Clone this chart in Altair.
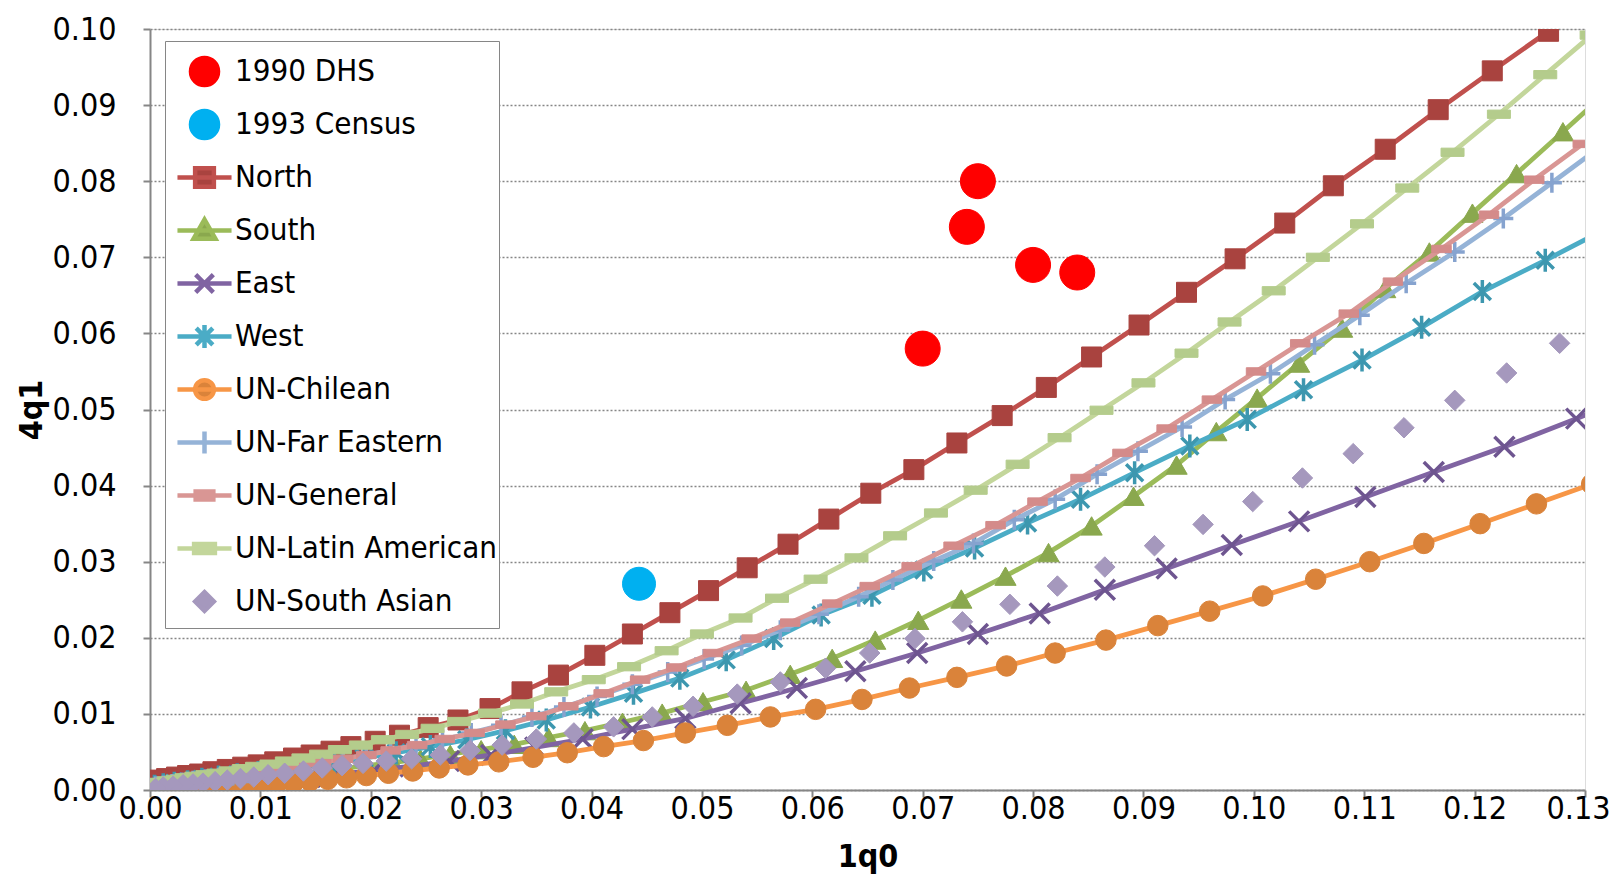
import altair as alt
import pandas as pd

FONT = "DejaVu Sans Condensed, Liberation Sans Narrow, sans-serif"

# ---------------- data ----------------
series_names = ["1990 DHS", "1993 Census", "North", "South", "East", "West",
                "UN-Chilean", "UN-Far Eastern", "UN-General", "UN-Latin American",
                "UN-South Asian"]

dhs_x = [0.0700, 0.0740, 0.0750, 0.0800, 0.0840]
dhs_y = [0.0580, 0.0740, 0.0800, 0.0690, 0.0680]

census_x = [0.0443]
census_y = [0.0271]

north_x = [0.1267, 0.1216, 0.1167, 0.1119, 0.1072, 0.1028, 0.0983, 0.0939, 0.0896, 0.0853,
           0.0812, 0.0772, 0.0731, 0.0692, 0.0653, 0.0615, 0.0578, 0.0541, 0.0506, 0.0471,
           0.0437, 0.0403, 0.0370, 0.0337, 0.0308, 0.0279, 0.0252, 0.0226, 0.0204, 0.0182,
           0.0164, 0.0146, 0.0130, 0.0113, 0.0098, 0.0084, 0.0070, 0.0057, 0.0045, 0.0034,
           0.0024, 0.0015, 0.0007, 0.0001]
north_y = [0.0997, 0.0945, 0.0894, 0.0842, 0.0794, 0.0745, 0.0698, 0.0654, 0.0611, 0.0569,
           0.0529, 0.0492, 0.0456, 0.0421, 0.0390, 0.0356, 0.0323, 0.0292, 0.0262, 0.0233,
           0.0205, 0.0177, 0.0151, 0.0129, 0.0107, 0.0092, 0.0082, 0.0072, 0.0064, 0.0057,
           0.0051, 0.0046, 0.0042, 0.0037, 0.0033, 0.0030, 0.0027, 0.0024, 0.0021, 0.0019,
           0.0017, 0.0015, 0.0013, 0.0012]

south_x = [0.1322, 0.1280, 0.1238, 0.1198, 0.1159, 0.1119, 0.1080, 0.1041, 0.1003, 0.0966,
           0.0930, 0.0891, 0.0853, 0.0814, 0.0775, 0.0735, 0.0696, 0.0657, 0.0618, 0.0580,
           0.0540, 0.0501, 0.0464, 0.0428, 0.0394, 0.0361, 0.0330, 0.0300, 0.0272, 0.0245,
           0.0220, 0.0196, 0.0174, 0.0153, 0.0133, 0.0115, 0.0098, 0.0082, 0.0067, 0.0053,
           0.0040, 0.0028, 0.0017, 0.0007]
south_y = [0.0920, 0.0865, 0.0810, 0.0758, 0.0707, 0.0659, 0.0607, 0.0561, 0.0515, 0.0471,
           0.0427, 0.0386, 0.0347, 0.0312, 0.0281, 0.0251, 0.0223, 0.0197, 0.0173, 0.0152,
           0.0131, 0.0116, 0.0101, 0.0089, 0.0078, 0.0069, 0.0060, 0.0053, 0.0047, 0.0041,
           0.0036, 0.0032, 0.0028, 0.0024, 0.0021, 0.0018, 0.0016, 0.0013, 0.0011, 0.0009,
           0.0008, 0.0006, 0.0005, 0.0004]

east_x = [0.1350, 0.1292, 0.1227, 0.1163, 0.1101, 0.1041, 0.0980, 0.0921, 0.0865, 0.0806,
          0.0750, 0.0695, 0.0639, 0.0586, 0.0535, 0.0485, 0.0437, 0.0392, 0.0349, 0.0309,
          0.0271, 0.0236, 0.0203, 0.0173, 0.0145, 0.0119, 0.0096, 0.0075, 0.0056, 0.0039,
          0.0024, 0.0011]
east_y = [0.0520, 0.0488, 0.0451, 0.0418, 0.0385, 0.0353, 0.0322, 0.0291, 0.0263, 0.0232,
          0.0205, 0.0180, 0.0156, 0.0134, 0.0114, 0.0094, 0.0080, 0.0067, 0.0056, 0.0046,
          0.0038, 0.0031, 0.0026, 0.0021, 0.0017, 0.0014, 0.0011, 0.0009, 0.0007, 0.0005,
          0.0004, 0.0003]

west_x = [0.1320, 0.1264, 0.1207, 0.1152, 0.1098, 0.1045, 0.0994, 0.0942, 0.0892, 0.0843,
          0.0795, 0.0747, 0.0701, 0.0654, 0.0608, 0.0565, 0.0522, 0.0480, 0.0438, 0.0399,
          0.0359, 0.0322, 0.0287, 0.0254, 0.0223, 0.0194, 0.0167, 0.0142, 0.0119, 0.0098,
          0.0079, 0.0062, 0.0047, 0.0034, 0.0022, 0.0012, 0.0004]
west_y = [0.0738, 0.0696, 0.0655, 0.0608, 0.0565, 0.0526, 0.0487, 0.0452, 0.0417, 0.0382,
          0.0351, 0.0318, 0.0289, 0.0256, 0.0230, 0.0199, 0.0171, 0.0147, 0.0127, 0.0109,
          0.0092, 0.0078, 0.0066, 0.0057, 0.0049, 0.0042, 0.0036, 0.0031, 0.0027, 0.0023,
          0.0020, 0.0017, 0.0014, 0.0011, 0.0009, 0.0007, 0.0005]

chilean_x = [0.1306, 0.1256, 0.1205, 0.1154, 0.1105, 0.1056, 0.1008, 0.0960, 0.0913, 0.0866,
             0.0820, 0.0776, 0.0731, 0.0688, 0.0645, 0.0603, 0.0562, 0.0523, 0.0485, 0.0447,
             0.0411, 0.0378, 0.0347, 0.0316, 0.0288, 0.0262, 0.0238, 0.0216, 0.0196, 0.0178,
             0.0161, 0.0145, 0.0130, 0.0115, 0.0101, 0.0088, 0.0076, 0.0064, 0.0053, 0.0042,
             0.0032, 0.0022, 0.0013, 0.0005]
chilean_y = [0.0402, 0.0376, 0.0350, 0.0324, 0.0300, 0.0277, 0.0255, 0.0235, 0.0216, 0.0197,
             0.0180, 0.0163, 0.0148, 0.0134, 0.0119, 0.0106, 0.0096, 0.0085, 0.0075, 0.0065,
             0.0057, 0.0049, 0.0043, 0.0037, 0.0033, 0.0029, 0.0025, 0.0022, 0.0019, 0.0016,
             0.0014, 0.0012, 0.0010, 0.0009, 0.0007, 0.0006, 0.0005, 0.0004, 0.0003, 0.0002,
             0.0002, 0.0001, 0.0001, 0.0000]

fareast_x = [0.1314, 0.1270, 0.1226, 0.1182, 0.1138, 0.1096, 0.1055, 0.1015, 0.0974, 0.0935,
             0.0895, 0.0858, 0.0820, 0.0783, 0.0746, 0.0710, 0.0673, 0.0642, 0.0606, 0.0571,
             0.0536, 0.0502, 0.0469, 0.0437, 0.0405, 0.0375, 0.0346, 0.0318, 0.0291, 0.0265,
             0.0241, 0.0218, 0.0196, 0.0175, 0.0155, 0.0137, 0.0120, 0.0104, 0.0089, 0.0075,
             0.0062, 0.0050, 0.0039, 0.0029, 0.0020, 0.0012, 0.0005]
fareast_y = [0.0845, 0.0798, 0.0751, 0.0707, 0.0666, 0.0624, 0.0585, 0.0547, 0.0513, 0.0477,
             0.0445, 0.0415, 0.0382, 0.0355, 0.0324, 0.0301, 0.0276, 0.0254, 0.0231, 0.0210,
             0.0190, 0.0172, 0.0155, 0.0139, 0.0123, 0.0109, 0.0096, 0.0085, 0.0075, 0.0066,
             0.0059, 0.0052, 0.0046, 0.0041, 0.0036, 0.0032, 0.0028, 0.0025, 0.0022, 0.0019,
             0.0016, 0.0014, 0.0012, 0.0010, 0.0008, 0.0006, 0.0005]

general_x = [0.1298, 0.1254, 0.1213, 0.1170, 0.1126, 0.1086, 0.1042, 0.1002, 0.0962, 0.0921,
             0.0881, 0.0843, 0.0804, 0.0766, 0.0728, 0.0690, 0.0652, 0.0618, 0.0580, 0.0545,
             0.0510, 0.0477, 0.0444, 0.0411, 0.0379, 0.0350, 0.0322, 0.0294, 0.0267, 0.0242,
             0.0218, 0.0196, 0.0175, 0.0155, 0.0137, 0.0120, 0.0104, 0.0089, 0.0075, 0.0062,
             0.0050, 0.0039, 0.0029, 0.0020, 0.0012, 0.0005]
general_y = [0.0849, 0.0802, 0.0756, 0.0711, 0.0668, 0.0626, 0.0587, 0.0550, 0.0513, 0.0475,
             0.0443, 0.0410, 0.0379, 0.0348, 0.0321, 0.0294, 0.0268, 0.0245, 0.0220, 0.0199,
             0.0180, 0.0161, 0.0145, 0.0127, 0.0110, 0.0097, 0.0086, 0.0075, 0.0067, 0.0059,
             0.0052, 0.0046, 0.0041, 0.0036, 0.0032, 0.0028, 0.0025, 0.0022, 0.0019, 0.0016,
             0.0014, 0.0012, 0.0010, 0.0008, 0.0006, 0.0005]

latin_x = [0.1306, 0.1264, 0.1222, 0.1180, 0.1139, 0.1098, 0.1058, 0.1018, 0.0978, 0.0939,
           0.0900, 0.0862, 0.0824, 0.0786, 0.0748, 0.0712, 0.0675, 0.0640, 0.0603, 0.0568,
           0.0535, 0.0500, 0.0468, 0.0434, 0.0402, 0.0368, 0.0337, 0.0308, 0.0280, 0.0256,
           0.0233, 0.0211, 0.0191, 0.0172, 0.0155, 0.0139, 0.0124, 0.0110, 0.0097, 0.0085,
           0.0073, 0.0062, 0.0052, 0.0042, 0.0033, 0.0025, 0.0017, 0.0010, 0.0004]
latin_y = [0.0992, 0.0940, 0.0888, 0.0838, 0.0791, 0.0744, 0.0700, 0.0656, 0.0615, 0.0574,
           0.0535, 0.0499, 0.0463, 0.0428, 0.0394, 0.0364, 0.0334, 0.0305, 0.0277, 0.0252,
           0.0226, 0.0205, 0.0183, 0.0162, 0.0145, 0.0129, 0.0113, 0.0101, 0.0090, 0.0081,
           0.0073, 0.0066, 0.0059, 0.0053, 0.0047, 0.0042, 0.0038, 0.0034, 0.0031, 0.0028,
           0.0025, 0.0022, 0.0020, 0.0018, 0.0016, 0.0014, 0.0012, 0.0010, 0.0009]

sasian_x = [0.1277, 0.1229, 0.1182, 0.1136, 0.1090, 0.1044, 0.0999, 0.0954, 0.0910, 0.0865,
            0.0822, 0.0779, 0.0736, 0.0693, 0.0652, 0.0612, 0.0571, 0.0532, 0.0492, 0.0455,
            0.0420, 0.0384, 0.0350, 0.0319, 0.0290, 0.0263, 0.0237, 0.0214, 0.0193, 0.0174,
            0.0156, 0.0139, 0.0122, 0.0107, 0.0094, 0.0082, 0.0070, 0.0059, 0.0048, 0.0039,
            0.0030, 0.0021, 0.0012, 0.0005]
sasian_y = [0.0587, 0.0548, 0.0512, 0.0476, 0.0442, 0.0410, 0.0379, 0.0349, 0.0321, 0.0293,
            0.0268, 0.0244, 0.0221, 0.0199, 0.0180, 0.0160, 0.0142, 0.0126, 0.0110, 0.0096,
            0.0083, 0.0075, 0.0067, 0.0059, 0.0052, 0.0046, 0.0041, 0.0038, 0.0035, 0.0032,
            0.0029, 0.0025, 0.0022, 0.0020, 0.0017, 0.0015, 0.0013, 0.0011, 0.0009, 0.0008,
            0.0007, 0.0005, 0.0004, 0.0002]

x_ticks = [0.00, 0.01, 0.02, 0.03, 0.04, 0.05, 0.06, 0.07, 0.08, 0.09, 0.10, 0.11, 0.12, 0.13]
y_ticks = [0.00, 0.01, 0.02, 0.03, 0.04, 0.05, 0.06, 0.07, 0.08, 0.09, 0.10]

series_xy = {
    "1990 DHS": (dhs_x, dhs_y), "1993 Census": (census_x, census_y),
    "North": (north_x, north_y), "South": (south_x, south_y),
    "East": (east_x, east_y), "West": (west_x, west_y),
    "UN-Chilean": (chilean_x, chilean_y), "UN-Far Eastern": (fareast_x, fareast_y),
    "UN-General": (general_x, general_y), "UN-Latin American": (latin_x, latin_y),
    "UN-South Asian": (sasian_x, sasian_y),
}

rows = []
for name in series_names:
    xs, ys = series_xy[name]
    assert len(xs) == len(ys), name
    for i, (a, b) in enumerate(zip(xs, ys)):
        rows.append({"series": name, "q10": a, "q41": b, "i": i})
df = pd.DataFrame(rows)

# ---------------- styles ----------------
P_X = "M-1,-1L1,1M-1,1L1,-1"
P_AST = "M-0.85,-0.85L0.85,0.85M-0.85,0.85L0.85,-0.85M0,-1.15V1.15"
P_PLUS = "M-1,0H1M0,-1V1"
P_DASH = "M-1,-0.38H1V0.38H-1Z"
P_BAR = "M-1,-0.36H1V0.36H-1Z"

# name: (line colour or None, marker colour, shape, size, filled)
style = {
    "1990 DHS": (None, "#FF0000", "circle", 1225, True),
    "1993 Census": (None, "#00B0F0", "circle", 1089, True),
    "North": ("#C0504D", "#A9433F", "square", 400, True),
    "South": ("#9BBB59", "#8AA84E", "triangle-up", 450, True),
    "East": ("#8064A2", "#6E5590", P_X, 400, False),
    "West": ("#4BACC6", "#3D97AF", P_AST, 400, False),
    "UN-Chilean": ("#F79646", "#DA833A", "circle", 420, True),
    "UN-Far Eastern": ("#95B3D7", "#86A3CF", P_PLUS, 400, False),
    "UN-General": ("#D99694", "#D48B8A", P_DASH, 380, True),
    "UN-Latin American": ("#C3D69B", "#B4CC8C", P_BAR, 529, True),
    "UN-South Asian": (None, "#A598BD", "diamond", 420, True),
}

L = "M-1.04,0H1.04"
EXT = "M0,-0.565L0,-0.565M0,0.565L0,0.565"   # invisible: gives every legend row the same height
legend_paths = [
    EXT + "M0.52,0A0.52,0.52 0 1,1 -0.52,0A0.52,0.52 0 1,1 0.52,0Z",
    EXT + "M0.52,0A0.52,0.52 0 1,1 -0.52,0A0.52,0.52 0 1,1 0.52,0Z",
    EXT + L + "M-0.36,-0.36H0.36V0.36H-0.36Z",
    EXT + L + "M0,-0.42L0.42,0.32L-0.42,0.32Z",
    EXT + L + "M-0.34,-0.34L0.34,0.34M-0.34,0.34L0.34,-0.34",
    EXT + L + "M-0.32,-0.32L0.32,0.32M-0.32,0.32L0.32,-0.32M0,-0.44V0.44",
    EXT + L + "M0.36,0A0.36,0.36 0 1,1 -0.36,0A0.36,0.36 0 1,1 0.36,0Z",
    EXT + L + "M0,-0.42V0.42",
    EXT + L + "M-0.34,-0.15H0.34V0.15H-0.34Z",
    EXT + L + "M-0.4,-0.17H0.4V0.17H-0.4Z",
    EXT + "M-1.04,0L-1.04,0M1.04,0L1.04,0M0,-0.36L0.36,0L0,0.36L-0.36,0Z",
]
legend_fill = [style[n][1] for n in series_names]
legend_stroke = [style[n][0] if style[n][0] else style[n][1] for n in series_names]

GRID = "#868686"

x_enc = alt.X("q10:Q",
              scale=alt.Scale(domain=[0, 0.13], nice=False, zero=False),
              axis=alt.Axis(values=x_ticks, format=".2f", grid=False,
                            labelFont=FONT, labelFontSize=32, labelColor="black",
                            labelFlush=False, labelOverlap=False, labelPadding=-4,
                            labelOffset={"condition": {"test": "datum.value >= 0.1299", "value": -7},
                                         "value": 0},
                            tickSize=7, tickWidth=2, tickColor=GRID,
                            domainColor=GRID, domainWidth=2,
                            title="1q0", titleFont=FONT, titleFontSize=32,
                            titleFontWeight="bold", titleColor="black",
                            titleX=717.5, titleY=66, titleBaseline="middle",
                            titleAlign="center"))
y_enc = alt.Y("q41:Q",
              scale=alt.Scale(domain=[0, 0.10], nice=False, zero=False),
              axis=alt.Axis(values=y_ticks, format=".2f", grid=True,
                            gridColor=GRID, gridDash=[2, 2], gridWidth=1.5,
                            labelFont=FONT, labelFontSize=32, labelColor="black",
                            labelFlush=False, labelOverlap=False, labelPadding=27,
                            tickSize=7, tickWidth=2, tickColor=GRID,
                            domainColor=GRID, domainWidth=2,
                            title="4q1", titleFont=FONT, titleFontSize=32,
                            titleFontWeight="bold", titleColor="black",
                            titleX=-119, titleY=380.5, titleBaseline="middle",
                            titleAlign="center", titleAngle=270))

base = alt.Chart(df)
layers = []
for name in series_names:
    line_c, mk_c, shape, size, filled = style[name]
    sub = base.transform_filter(alt.datum.series == name)
    if line_c:
        layers.append(sub.mark_line(color=line_c, strokeWidth=4.8, clip=True)
                      .encode(x=x_enc, y=y_enc, order="i:Q"))
    if filled:
        pt = sub.mark_point(shape=shape, size=size, filled=True, fill=mk_c,
                            stroke=mk_c, strokeWidth=1, opacity=1, clip=True)
    else:
        pt = sub.mark_point(shape=shape, size=size, filled=False, stroke=mk_c,
                            strokeWidth=3.5, opacity=1, clip=True)
    layers.append(pt.encode(x=x_enc, y=y_enc))

leg = alt.Legend(title=None, orient="none", legendX=15, legendY=12,
                 symbolSize=2704, symbolStrokeWidth=4.5, symbolOffset=9,
                 labelFont=FONT, labelFontSize=31, labelColor="black",
                 labelOffset=2, labelLimit=500, rowPadding=-1, padding=2,
                 strokeColor=GRID, fillColor="white")

legend_df = pd.DataFrame({"series": series_names, "q10": [0.0] * 11, "q41": [0.0] * 11})
legend_layer = (alt.Chart(legend_df)
                .transform_filter("false")
                .mark_point(filled=True, opacity=1)
                .encode(
                    x=x_enc, y=y_enc,
                    fill=alt.Fill("series:N", scale=alt.Scale(domain=series_names, range=legend_fill), legend=leg),
                    stroke=alt.Stroke("series:N", scale=alt.Scale(domain=series_names, range=legend_stroke), legend=leg),
                    shape=alt.Shape("series:N", scale=alt.Scale(domain=series_names, range=legend_paths), legend=leg),
                ))

chart = (alt.layer(*layers, legend_layer)
         .properties(width=1435, height=761,
                     autosize=alt.AutoSizeParams(type="none"),
                     padding={"left": 142, "top": 21, "right": 26, "bottom": 92})
         .configure_view(stroke=GRID, strokeWidth=2)
         .configure(background="white"))

chart.save("out.html", embed_options={"renderer": "svg", "actions": False})
